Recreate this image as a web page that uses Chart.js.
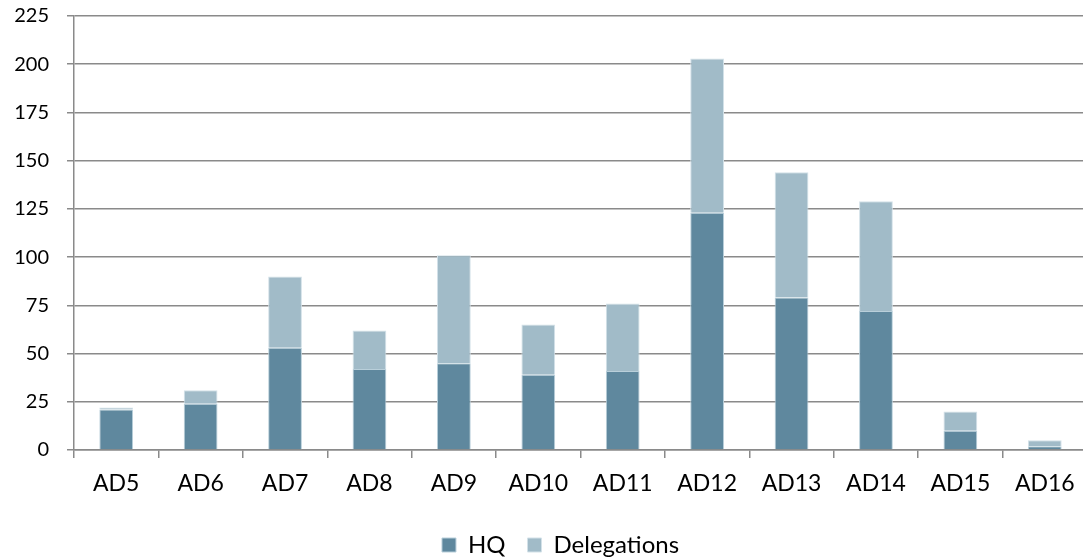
<!DOCTYPE html>
<html>
<head>
<meta charset="utf-8">
<script src="https://cdn.jsdelivr.net/npm/chart.js@4/dist/chart.umd.min.js"></script>
<style>
  html, body { margin: 0; padding: 0; background: #fff; overflow: hidden; }
  #wrap { width: 1090px; height: 560px; }
</style>
</head>
<body>
<div id="wrap"><canvas id="chart"></canvas></div>
<script>
// categories and series
const categories = ['AD5', 'AD6', 'AD7', 'AD8', 'AD9', 'AD10', 'AD11', 'AD12', 'AD13', 'AD14', 'AD15', 'AD16'];
const hqValues = [21, 24, 53, 42, 45, 39, 41, 123, 79, 72, 10, 2];
const delegationValues = [1, 7, 37, 20, 56, 26, 35, 80, 65, 57, 10, 3];
const yTicks = [0, 25, 50, 75, 100, 125, 150, 175, 200, 225];

const FONT = 'Lato, "Open Sans", sans-serif';
const gridColor = '#8a8a8a';

// legend sits a bit right of centre in the original
const legendShift = {
  id: 'legendShift',
  afterLayout(chart) {
    if (!chart.legend) return;
    chart.legend.left += 17;
    chart.legend.right += 17;
  }
};

new Chart(document.getElementById('chart'), {
  type: 'bar',
  data: {
    labels: categories,
    datasets: [
      {
        label: 'HQ',
        data: hqValues,
        backgroundColor: '#5f889e',
        borderColor: '#b9cfda',
        borderWidth: 1,
        categoryPercentage: 0.8,
        barPercentage: 0.5
      },
      {
        label: 'Delegations',
        data: delegationValues,
        backgroundColor: '#a1bbc8',
        borderColor: '#d3e1e8',
        borderWidth: 1,
        categoryPercentage: 0.8,
        barPercentage: 0.5
      }
    ]
  },
  plugins: [legendShift],
  options: {
    responsive: true,
    maintainAspectRatio: false,
    animation: false,
    layout: { padding: { top: 16, right: 3, bottom: -7, left: 0 } },
    plugins: {
      tooltip: { enabled: false },
      legend: {
        position: 'bottom',
        labels: {
          color: '#000',
          font: { family: FONT, size: 24 },
          boxWidth: 14,
          boxHeight: 14,
          padding: 22
        }
      }
    },
    scales: {
      x: {
        stacked: true,
        afterFit: s => { s.height = 61; },
        grid: { display: true, drawOnChartArea: false, drawTicks: true, tickLength: 8, color: gridColor, lineWidth: 1.5 },
        border: { display: true, color: gridColor, width: 1.5 },
        ticks: { color: '#000', font: { family: FONT, size: 23 }, padding: 12 }
      },
      y: {
        stacked: true,
        min: 0,
        max: 225,
        afterFit: s => { s.width = 74; s.paddingTop = 0; s.paddingBottom = 0; },
        afterBuildTicks: s => { s.ticks = yTicks.map(v => ({ value: v })); },
        grid: { color: gridColor, lineWidth: 1.5, tickLength: 7 },
        border: { display: true, color: gridColor, width: 1.5 },
        ticks: { color: '#000', font: { family: FONT, size: 20 }, padding: 18 }
      }
    }
  }
});
</script>
</body>
</html>
